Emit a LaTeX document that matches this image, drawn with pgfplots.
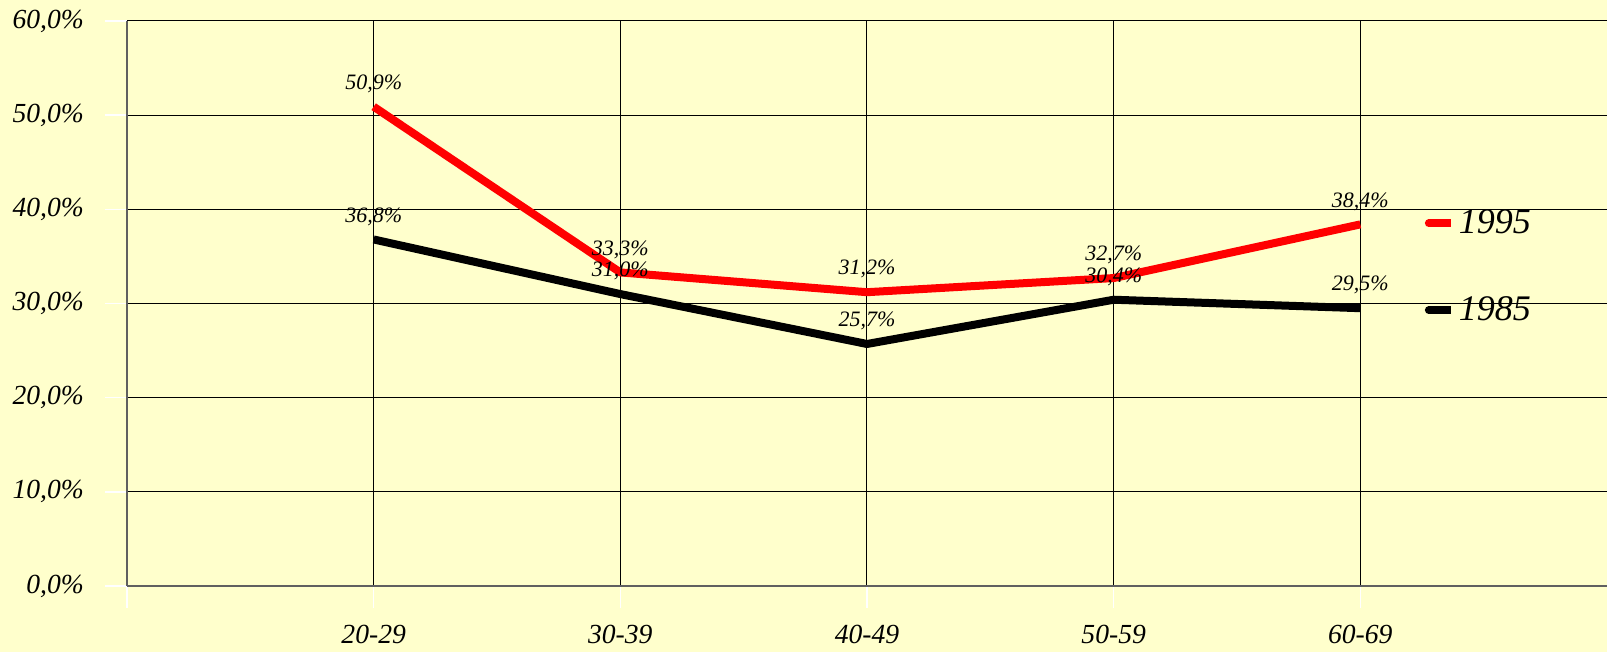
\documentclass[border=0pt]{standalone}
\usepackage{pgfplots}
\pgfplotsset{compat=1.18}
\usepackage{fontspec}
\setmainfont{Liberation Serif}
\definecolor{bgyellow}{HTML}{FFFFCC}
\definecolor{axgray}{HTML}{606060}

\begin{document}
\begin{tikzpicture}
\fill[bgyellow] (-63.5pt,-33pt) rectangle (740pt,293pt);
\path[use as bounding box] (-63.5pt,-33pt) rectangle (740pt,293pt);
\begin{axis}[
    scale only axis,
    width=740pt, height=282.5pt,
    xmin=0, xmax=6, ymin=0, ymax=60,
    axis lines=left,
    axis line style={-, axgray, line width=0.75pt},
    grid=major,
    grid style={black, line width=0.5pt},
    xtick={0,1,2,3,4,5},
    xticklabels={,20-29,30-39,40-49,50-59,60-69},
    ytick={0,10,20,30,40,50,60},
    yticklabels={{0,0\%},{10,0\%},{20,0\%},{30,0\%},{40,0\%},{50,0\%},{60,0\%}},
    tick align=outside,
    major tick length=11pt,
    tick style={white, line width=0.75pt},
    xticklabel style={font=\fontsize{13.8}{15}\selectfont\itshape, yshift=-5pt},
    yticklabel style={font=\fontsize{13.8}{15}\selectfont\itshape, xshift=-7pt},
    legend style={draw=none, fill=none, at={(0.876,0.565)}, anchor=west,
        font=\fontsize{18}{21}\selectfont\itshape, row sep=26pt, inner sep=0pt,
        cells={anchor=west}},
    legend image code/.code={
        \draw[#1, line cap=round] (0.5pt,0pt) -- (5.5pt,0pt);
        \path (0pt,0pt) -- (11.5pt,0pt);},
    point meta=explicit symbolic,
    nodes near coords,
    every node near coord/.append style={font=\fontsize{11}{12}\selectfont\itshape,
        text=black, anchor=center, yshift=11.5pt},
]
% 1995
\addplot[red, line width=4pt, line join=round] coordinates {
    (1,50.9) [50,9\%]
    (2,33.3) [33,3\%]
    (3,31.2) [31,2\%]
    (4,32.7) [32,7\%]
    (5,38.4) [38,4\%]
};
\addlegendentry{1995}
% 1985
\addplot[black, line width=4pt, line join=round] coordinates {
    (1,36.8) [36,8\%]
    (2,31.0) [31,0\%]
    (3,25.7) [25,7\%]
    (4,30.4) [30,4\%]
    (5,29.5) [29,5\%]
};
\addlegendentry{1985}
\end{axis}
\end{tikzpicture}
\end{document}
